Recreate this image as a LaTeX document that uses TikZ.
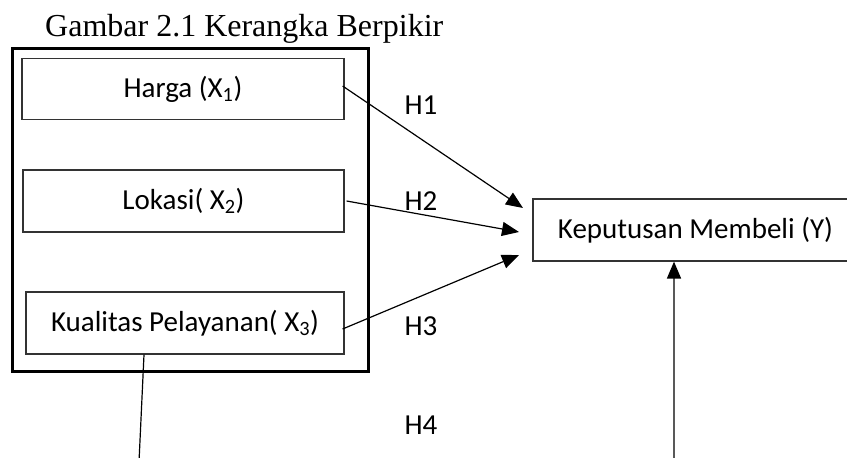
\documentclass[tikz,border=0pt]{standalone}
\usepackage{fontspec}
\setmainfont{Carlito}
\newfontfamily\titlefont{Liberation Serif}
\usetikzlibrary{arrows.meta}
\tikzset{
  varbox/.style={draw=black!80, line width=1.2pt, inner sep=0pt, anchor=center,
    font=\fontsize{29}{34}\selectfont},
  link/.style={line width=1.2pt, draw=black,
    -{Triangle[length=17pt,width=14pt]}},
  hlabel/.style={font=\fontsize{29}{34}\selectfont, inner sep=0pt},
}
\begin{document}
\begin{tikzpicture}[x=1pt, y=-1pt]
  \clip (0,0) rectangle (847,458);
  \fill[white] (0,0) rectangle (847,458);

  % title
  \node[anchor=base west, inner sep=0pt, font=\titlefont\fontsize{32}{38}\selectfont]
    (title) at (45,36) {Gambar 2.1 Kerangka Berpikir};

  % group frame around the independent variables
  \draw[line width=3pt, draw=black] (12,48) rectangle (368,371);

  % independent variables
  \node[varbox, minimum width=322pt, minimum height=61pt] (harga) at (183,89) {Harga (X\textsubscript{1})};
  \node[varbox, minimum width=321pt, minimum height=62pt] (lokasi) at (183.5,201) {Lokasi( X\textsubscript{2})};
  \node[varbox, minimum width=318pt, minimum height=62pt] (kual) at (185,323) {Kualitas Pelayanan( X\textsubscript{3})};

  % dependent variable (runs past the right edge)
  \node[varbox, minimum width=325pt, minimum height=62pt] (kep) at (695.5,230) {Keputusan Membeli (Y)};

  % arrow targets
  \coordinate (t1) at (523,208);
  \coordinate (t2) at (519,232);
  \coordinate (t3) at (519,255);
  \coordinate (lb) at (139,462);
  \coordinate (rb) at (674,462);

  \draw[link] ([xshift=-2pt,yshift=3pt]harga.east) -- (t1);
  \draw[link] ([xshift=2pt]lokasi.east) -- (t2);
  \draw[link] ([xshift=-2pt,yshift=-6pt]kual.east) -- (t3);

  % lines towards H4
  \draw[line width=1.2pt] ([xshift=-41pt]kual.south) -- (lb);
  \draw[line width=1.6pt, draw=black!65, -{Triangle[length=17pt,width=14pt,color=black,fill=black]}]
    (rb) -- ([xshift=-21.5pt]kep.south);

  % hypothesis labels
  \node[hlabel] (h1) at (421,105) {H1};
  \node[hlabel] (h2) at (421,201) {H2};
  \node[hlabel] (h3) at (421,326) {H3};
  \node[hlabel] (h4) at (421,425) {H4};
\end{tikzpicture}
\end{document}
